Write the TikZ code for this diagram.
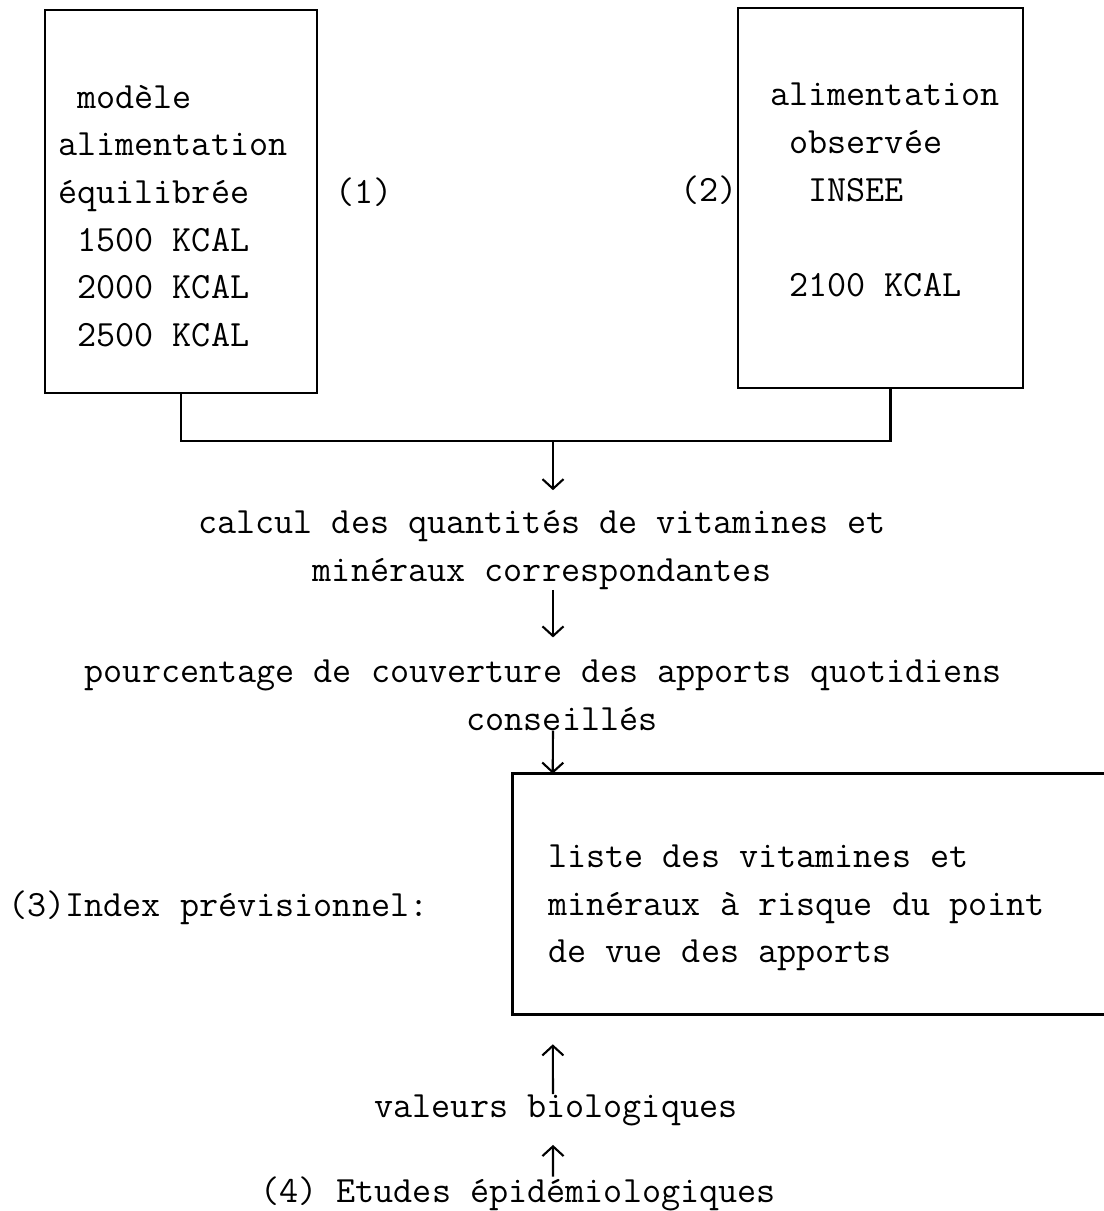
\documentclass[tikz,border=0pt]{standalone}
\usetikzlibrary{arrows.meta}
\newcommand{\onech}{\phantom{x}}
\begin{document}
\begin{tikzpicture}
        [x=0.02cm, y=-0.02cm,
        every node/.style={inner sep=0pt,
                font=\ttfamily\fontsize{21.1pt}{27.1pt}\selectfont},
        box/.style={draw, line width=1.4pt},
        txt/.style={align=left, anchor=west},
        mid/.style={align=center},
        line/.style={line width=1.2pt},
        arr/.style={line, -{Straight Barb[length=5.5pt,width=12pt]}}]
        \useasboundingbox (0,0) rectangle (1104,1211);
        % the two sources
        \node[box, minimum width=5.44cm, minimum height=7.66cm] (model) at (181,201.5) {};
        \node[txt] (modeltxt) at (58,216) {\onech modèle\\alimentation\\équilibrée\\
                \onech 1500 KCAL\\\onech 2000 KCAL\\\onech 2500 KCAL};
        \node[txt] (lbl1) at (335,192) {(1)};
        \node[box, minimum width=5.7cm, minimum height=7.6cm] (obs) at (880.5,198) {};
        \node[txt] (obstxt) at (770,190) {alimentation\\\onech observée\\\onech\onech INSEE\\[27.1pt]
                \onech 2100 KCAL};
        \node[txt] (lbl2) at (680,190) {(2)};
        \coordinate (join) at (553,441);
        \draw[line] (model.south) |- (join) -| ([xshift=0.2cm]obs.south);
        % chain of steps
        \node[mid] (calc) at (542,550) {calcul des quantités de vitamines et\\minéraux correspondantes};
        \node[mid] (pct) at (543,695) {pourcentage de couverture des apports quotidiens\\
                \onech\onech conseillés};
        \node[minimum width=11.82cm, minimum height=4.8cm] (risk) at (808.5,894) {};
        \draw[box] (risk.north east) -- (risk.north west) -- (risk.south west) -- (risk.south east);
        \node[txt] (risktxt) at (548,908) {liste des vitamines et\\minéraux à risque du point\\
                de vue des apports};
        \node[txt] (index) at (8,908) {(3)Index prévisionnel:};
        \node (bio) at (556,1110) {valeurs biologiques};
        \node (epid) at (518,1194) {(4) Etudes épidémiologiques};
        \draw[arr, shorten >=0.4cm] (join) -- (join |- calc.north);
        \draw[arr, shorten >=0.44cm] ([xshift=0.22cm]calc.south) -- ([xshift=0.2cm]pct.north);
        \draw[arr] ([xshift=0.2cm]pct.south) -- ([xshift=0.8cm]risk.north west);
        \draw[arr, shorten >=0.6cm] ([xshift=-0.06cm]bio.north) -- ([xshift=0.8cm]risk.south west);
        \draw[arr, shorten >=0.38cm] ([xshift=0.7cm]epid.north) -- ([xshift=-0.06cm]bio.south);
\end{tikzpicture}
\end{document}
